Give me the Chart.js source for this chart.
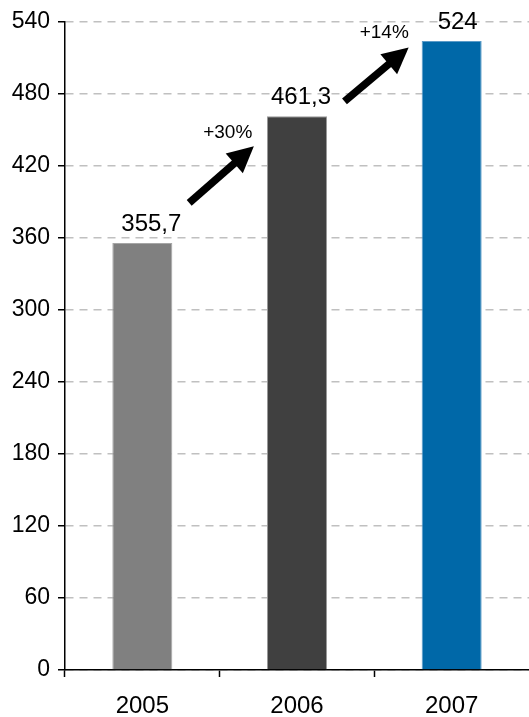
<!DOCTYPE html>
<html><head><meta charset="utf-8">
<script src="https://cdn.jsdelivr.net/npm/chart.js@4.4.0/dist/chart.umd.min.js"></script>
<style>html,body{margin:0;padding:0;background:#fff}#wrap{width:529px;height:717px;position:relative}</style>
</head><body><div id="wrap"><canvas id="c"></canvas></div>
<script>
const categories = ['2005', '2006', '2007'];
const values = [355.7, 461.3, 524];
const valueLabels = ['355,7', '461,3', '524'];
const barColors = ['#808080', '#404040', '#0068a8'];
const barBorders = ['#a6a6a6', '#9a9a9a', '#5b9bc8'];
const yMin = 0, yMax = 540, yStep = 60;
const growthLabels = ['+30%', '+14%'];
const growthLabelAt = [[0.552, 447.5], [1.564, 531]];
const arrowFrom = [[0.303, 389.2], [1.307, 473.7]];
const arrowTo = [[0.721, 436.3], [1.722, 518.6]];

const FONT = "'Liberation Sans', Arial, sans-serif";
const LABEL_DX = [9, 4, 6];

const annot = {
  id: 'annot',
  afterDatasetsDraw(chart) {
    const ctx = chart.ctx, xs = chart.scales.x, ys = chart.scales.y;
    ctx.save();
    ctx.fillStyle = '#000';
    ctx.font = '24px ' + FONT;
    ctx.textAlign = 'center';
    ctx.textBaseline = 'alphabetic';
    values.forEach((v, i) => {
      ctx.fillText(valueLabels[i], xs.getPixelForValue(i) + LABEL_DX[i], ys.getPixelForValue(v) - 12);
    });
    arrowFrom.forEach((f, i) => {
      const x1 = xs.getPixelForValue(f[0]), y1 = ys.getPixelForValue(f[1]);
      const x2 = xs.getPixelForValue(arrowTo[i][0]), y2 = ys.getPixelForValue(arrowTo[i][1]);
      const ang = Math.atan2(y2 - y1, x2 - x1);
      const headLen = 26, headW = 13;
      const bx = x2 - headLen * Math.cos(ang), by = y2 - headLen * Math.sin(ang);
      ctx.strokeStyle = '#000';
      ctx.lineWidth = 7.5;
      ctx.lineCap = 'butt';
      ctx.beginPath();
      ctx.moveTo(x1, y1);
      ctx.lineTo(bx + 2 * Math.cos(ang), by + 2 * Math.sin(ang));
      ctx.stroke();
      ctx.fillStyle = '#000';
      ctx.beginPath();
      ctx.moveTo(x2, y2);
      ctx.lineTo(bx + headW * Math.sin(ang), by - headW * Math.cos(ang));
      ctx.lineTo(bx - headW * Math.sin(ang), by + headW * Math.cos(ang));
      ctx.closePath();
      ctx.fill();
    });
    ctx.font = '19px ' + FONT;
    ctx.textBaseline = 'middle';
    growthLabels.forEach((t, i) => {
      ctx.fillText(t, xs.getPixelForValue(growthLabelAt[i][0]), ys.getPixelForValue(growthLabelAt[i][1]));
    });
    ctx.restore();
  }
};

new Chart(document.getElementById('c'), {
  type: 'bar',
  data: {
    labels: categories,
    datasets: [{
      data: values,
      backgroundColor: barColors,
      borderColor: barBorders,
      borderWidth: 1,
      barPercentage: 0.388,
      categoryPercentage: 1
    }]
  },
  options: {
    responsive: true,
    maintainAspectRatio: false,
    animation: false,
    layout: { padding: { top: 20, right: 0, left: 0, bottom: 0 } },
    plugins: { legend: { display: false }, tooltip: { enabled: false } },
    scales: {
      x: {
        grid: { display: true, drawOnChartArea: false, drawTicks: true, tickLength: 7,
          tickColor: (c) => c.type === 'tick' ? '#000' : 'rgba(0,0,0,0)', tickWidth: 1.5, offset: true },
        border: { display: true, color: '#000', width: 1.5 },
        ticks: { color: '#000', font: { family: FONT, size: 24 }, padding: 15 },
        afterFit(s) { s.height = 47; }
      },
      y: {
        min: yMin, max: yMax,
        grid: { color: '#c0c0c0', lineWidth: 1.5, drawTicks: true, tickLength: 7, tickColor: '#000', tickWidth: 1.5 },
        border: { display: true, color: '#000', width: 1.5, dash: [8, 6] },
        ticks: { stepSize: yStep, color: '#000', font: { family: FONT, size: 23 }, padding: 8 },
        afterFit(s) { s.width = 65; }
      }
    }
  },
  plugins: [annot]
});
</script></body></html>
